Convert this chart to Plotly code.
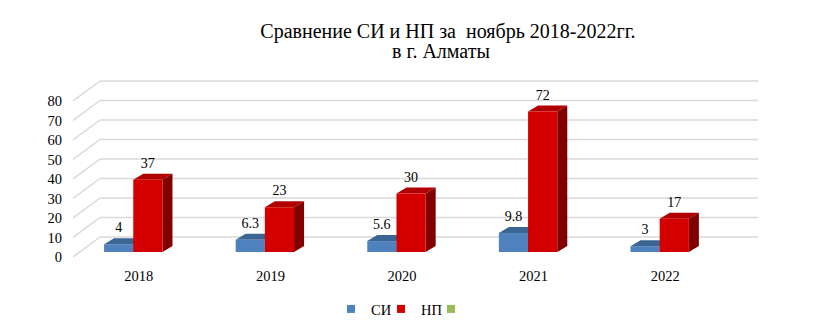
import plotly.graph_objects as go

# ---- data ----
years = ["2018", "2019", "2020", "2021", "2022"]
si_values = [4, 6.3, 5.6, 9.8, 3]
np_values = [37, 23, 30, 72, 17]
si_labels = ["4", "6.3", "5.6", "9.8", "3"]
np_labels = ["37", "23", "30", "72", "17"]
y_ticks = [0, 10, 20, 30, 40, 50, 60, 70, 80]
title_line1 = "Сравнение СИ и НП за \u00a0ноябрь 2018-2022гг."
title_line2 = "в г. Алматы"

# ---- geometry / style constants ----
W, H = 816, 328
PL, PR, PT, PB = 73, 58, 80, 71           # plot area margins
PX_X = 131.6                               # px per category
PX_Y = 1.95                                # px per value unit
X0 = -0.5
X1 = X0 + (W - PL - PR) / PX_X
Y1 = (H - PT - PB) / PX_Y
WALL_DX = 27 / PX_X                        # depth of the box
WALL_DY = 20 / PX_Y
BAR_BASE = 5 / PX_Y                        # bars stand a bit behind the front edge
GROUP_OFF = -0.042
BAR_W = 29.2 / PX_X
BAR_DX = 10 / PX_X
BAR_DY = 6 / PX_Y
LABEL_GAP = 15.5 / PX_Y

BLUE = ("#4f81bd", "#3b6592", "#2c4c70")
RED = ("#d40000", "#b00000", "#800000")
GREEN = "#9bbb59"
GRID = "#d9d9d9"
FONT = "Liberation Serif"

fig = go.Figure()
shapes = []

# back wall and side wall grid lines
for v in y_ticks:
    shapes.append(dict(type="line", xref="x", yref="y", layer="below",
                       x0=X0, y0=v, x1=X0 + WALL_DX, y1=v + WALL_DY,
                       line=dict(color=GRID, width=1.5)))
    shapes.append(dict(type="line", xref="x", yref="y", layer="below",
                       x0=X0 + WALL_DX, y0=v + WALL_DY, x1=X1, y1=v + WALL_DY,
                       line=dict(color=GRID, width=1.5)))

def add_series(values, offset, colors, name, labels):
    xs = list(range(len(values)))
    fig.add_trace(go.Bar(
        x=xs, y=values, base=BAR_BASE, width=BAR_W, offset=offset,
        marker=dict(color=colors[0], line=dict(width=0)),
        name=name, showlegend=False, hoverinfo="skip"))
    for i, v in enumerate(values):
        xl = i + offset
        xr = xl + BAR_W
        top = BAR_BASE + v
        # top face
        shapes.append(dict(type="path", xref="x", yref="y", layer="below",
                           path=f"M{xl},{top} L{xr},{top} L{xr + BAR_DX},{top + BAR_DY} "
                                f"L{xl + BAR_DX},{top + BAR_DY} Z",
                           fillcolor=colors[1], line=dict(width=0)))
        # side face
        shapes.append(dict(type="path", xref="x", yref="y", layer="below",
                           path=f"M{xr},{BAR_BASE} L{xr},{top} L{xr + BAR_DX},{top + BAR_DY} "
                                f"L{xr + BAR_DX},{BAR_BASE + BAR_DY} Z",
                           fillcolor=colors[2], line=dict(width=0)))
    fig.add_trace(go.Scatter(
        x=[i + offset + BAR_W / 2 for i in xs],
        y=[BAR_BASE + v + LABEL_GAP for v in values],
        text=labels, mode="text", textposition="middle center",
        textfont=dict(family=FONT, size=14, color="#000000"),
        showlegend=False, hoverinfo="skip", cliponaxis=False))

add_series(si_values, GROUP_OFF - BAR_W, BLUE, "СИ", si_labels)
add_series(np_values, GROUP_OFF, RED, "НП", np_labels)

# legend entries
for name, col in [("СИ", BLUE[0]), ("НП", RED[0]), (" ", GREEN)]:
    fig.add_trace(go.Scatter(x=[None], y=[None], mode="markers", name=name,
                             marker=dict(symbol="square", size=8, color=col)))

fig.update_layout(
    width=W, height=H,
    margin=dict(l=PL, r=PR, t=PT, b=PB, autoexpand=False),
    paper_bgcolor="white", plot_bgcolor="white",
    barmode="overlay",
    font=dict(family=FONT, size=14.5, color="#000000"),
    title=dict(text=title_line1, x=0.549, xanchor="center", y=1 - 31 / H,
               yanchor="middle", font=dict(family=FONT, size=20, color="#000000")),
    annotations=[dict(text=title_line2, xref="paper", yref="paper",
                      x=(441 - PL) / (W - PL - PR), y=1 + (PT - 51) / (H - PT - PB),
                      xanchor="center", yanchor="middle", showarrow=False,
                      font=dict(family=FONT, size=20, color="#000000"))],
    xaxis=dict(range=[X0, X1], tickvals=list(range(len(years))), ticktext=years,
               showgrid=False, zeroline=False, showline=False,
               ticks="outside", ticklen=6, tickcolor="rgba(0,0,0,0)",
               tickfont=dict(family=FONT, size=14.5), fixedrange=True),
    yaxis=dict(range=[0, Y1], tickvals=y_ticks, showgrid=False, zeroline=False,
               showline=False, ticks="outside", ticklen=7, tickcolor="rgba(0,0,0,0)",
               tickfont=dict(family=FONT, size=14.5), fixedrange=True),
    legend=dict(orientation="h", x=(331 - PL) / (W - PL - PR), xanchor="left",
                y=-(309 - (H - PB)) / (H - PT - PB), yanchor="middle",
                font=dict(family=FONT, size=14.5), itemwidth=30, entrywidth=5,
                bgcolor="rgba(0,0,0,0)"),
    shapes=shapes,
)

fig.write_html("out.html")
